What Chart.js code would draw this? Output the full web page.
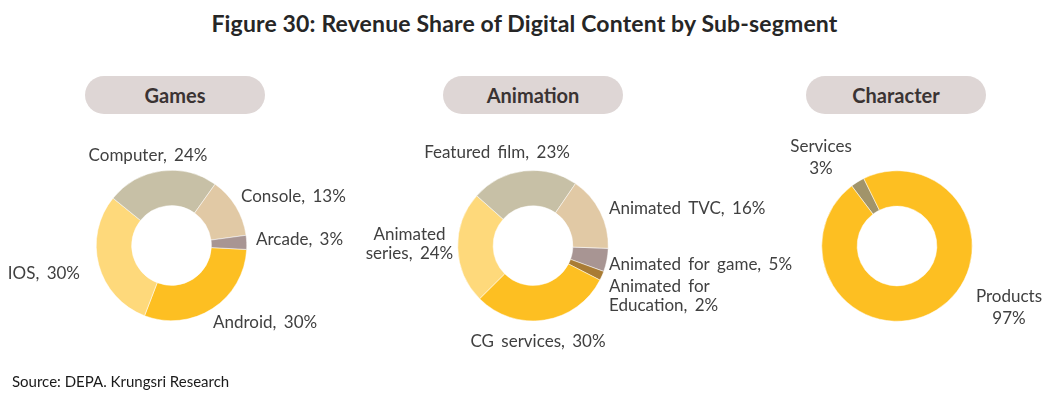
<!DOCTYPE html>
<html>
<head>
<meta charset="utf-8">
<script src="https://cdn.jsdelivr.net/npm/chart.js@4/dist/chart.umd.min.js"></script>
<style>
  html, body { margin: 0; padding: 0; background: #fff; }
  #page { position: relative; width: 1049px; height: 398px; overflow: hidden; font-family: Lato, sans-serif; color: #404040; }
  #title { position: absolute; left: 0; width: 1049px; top: 9px; text-align: center; font-weight: bold; font-size: 23px; line-height: 28px; letter-spacing: 0.15px; color: #262626; }
  .pill { position: absolute; top: 76px; height: 38px; width: 180px; border-radius: 19px; background: #ded6d5;
          text-align: center; line-height: 38px; font-weight: bold; font-size: 20px; color: #3a3333; }
  canvas { position: absolute; left: 0; top: 0; }
  #source { position: absolute; left: 12px; top: 372px; font-size: 15px; color: #1a1a1a; }
</style>
</head>
<body>
<div id="page">
  <div id="title">Figure 30: Revenue Share of Digital Content by Sub-segment</div>
  <div class="pill" style="left:85px">Games</div>
  <div class="pill" style="left:443px">Animation</div>
  <div class="pill" style="left:806px">Character</div>
  <canvas id="c-games" width="1049" height="398"></canvas>
  <canvas id="c-anim" width="1049" height="398"></canvas>
  <canvas id="c-char" width="1049" height="398"></canvas>
  <div id="source">Source: DEPA. Krungsri Research</div>
</div>
<script>
/* ---------- Data (percent shares) ---------- */
const gamesLabels = ['Android', 'IOS', 'Computer', 'Console', 'Arcade'];
const gamesValues = [30, 30, 24, 13, 3];

const animLabels = ['Animated for game', 'Animated for Education', 'CG services', 'Animated series', 'Featured film', 'Animated TVC'];
const animValues = [5, 2, 30, 24, 23, 16];

const charLabels = ['Services', 'Products'];
const charValues = [3, 97];

/* ---------- Styling ---------- */
const GOLD = '#fdbf22';
const LIGHT_GOLD = '#fed97b';
const KHAKI = '#c7c0a6';
const TAN = '#e1c9a5';
const MAUVE = '#a89593';
const BROWN = '#a97c35';
const OLIVE = '#a1946a';

const W = 1049, H = 398, R = 75.5;

// Label placement relative to the donut centre (dx, dy), alignment, and word index to wrap at.
const gamesLayout = [
  { dx: 41.5, dy: 77.5, align: 'left' },
  { dx: -91.5, dy: 28.5, align: 'right' },
  { dx: -23.5, dy: -89.5, align: 'center' },
  { dx: 69.5, dy: -48.5, align: 'left' },
  { dx: 84.5, dy: -5.5, align: 'left' },
];
const animLayout = [
  { dx: 76, dy: 19.3, align: 'left' },
  { dx: 76, dy: 41.3, align: 'left', wrap: 2 },
  { dx: 5, dy: 96.3, align: 'center' },
  { dx: -123.5, dy: -10.7, align: 'center', wrap: 1 },
  { dx: -36, dy: -92.7, align: 'center' },
  { dx: 76, dy: -36.7, align: 'left' },
];
const charLayout = [
  { dx: -76, dy: -99, align: 'center', wrap: 1 },
  { dx: 112, dy: 51, align: 'center', wrap: 1 },
];

/* ---------- Label plugin: draws "Name, xx%" next to each slice ---------- */
const donutLabels = {
  id: 'donutLabels',
  afterDraw(chart, args, opts) {
    const ctx = chart.ctx;
    const meta = chart.getDatasetMeta(0);
    const cx = meta.data[0].x, cy = meta.data[0].y;
    const labels = chart.data.labels;
    const values = chart.data.datasets[0].data;
    ctx.save();
    ctx.font = opts.font;
    ctx.fillStyle = opts.color;
    ctx.textBaseline = 'middle';
    if ('wordSpacing' in ctx) ctx.wordSpacing = opts.wordSpacing + 'px';
    opts.layout.forEach((it, i) => {
      const text = labels[i] + opts.sep + values[i] + '%';
      let lines = [text];
      if (it.wrap) {
        const words = text.split(' ');
        lines = [words.slice(0, it.wrap).join(' '), words.slice(it.wrap).join(' ')];
      }
      ctx.textAlign = it.align;
      lines.forEach((ln, j) => ctx.fillText(ln, cx + it.dx, cy + it.dy + j * opts.lineHeight));
    });
    ctx.restore();
  },
};

function makeDonut(canvasId, labels, values, colors, cx, cy, rotation, labelOpts) {
  return new Chart(document.getElementById(canvasId), {
    type: 'doughnut',
    data: {
      labels: labels,
      datasets: [{
        data: values,
        backgroundColor: colors,
        borderColor: '#ffffff',
        borderWidth: 0.5,
        hoverOffset: 0,
      }],
    },
    options: {
      responsive: false,
      animation: false,
      cutout: '53%',
      rotation: rotation,
      layout: {
        padding: { left: cx - R, right: W - cx - R, top: cy - R, bottom: H - cy - R },
      },
      plugins: {
        legend: { display: false },
        tooltip: { enabled: false },
        donutLabels: labelOpts,
      },
    },
    plugins: [donutLabels],
  });
}

const LABEL_FONT = '17px Lato';
const LABEL_COLOR = '#404040';

makeDonut('c-games', gamesLabels, gamesValues, [GOLD, LIGHT_GOLD, KHAKI, TAN, MAUVE],
  171.5, 245.5, 93,
  { font: LABEL_FONT, color: LABEL_COLOR, sep: ', ', wordSpacing: 3, lineHeight: 19, layout: gamesLayout });

makeDonut('c-anim', animLabels, animValues, [MAUVE, BROWN, GOLD, LIGHT_GOLD, KHAKI, TAN],
  533, 245.7, 92,
  { font: LABEL_FONT, color: LABEL_COLOR, sep: ', ', wordSpacing: 3, lineHeight: 19, layout: animLayout });

makeDonut('c-char', charLabels, charValues, [OLIVE, GOLD],
  897, 246, -37,
  { font: LABEL_FONT, color: LABEL_COLOR, sep: ' ', wordSpacing: 3, lineHeight: 22, layout: charLayout });
</script>
</body>
</html>
